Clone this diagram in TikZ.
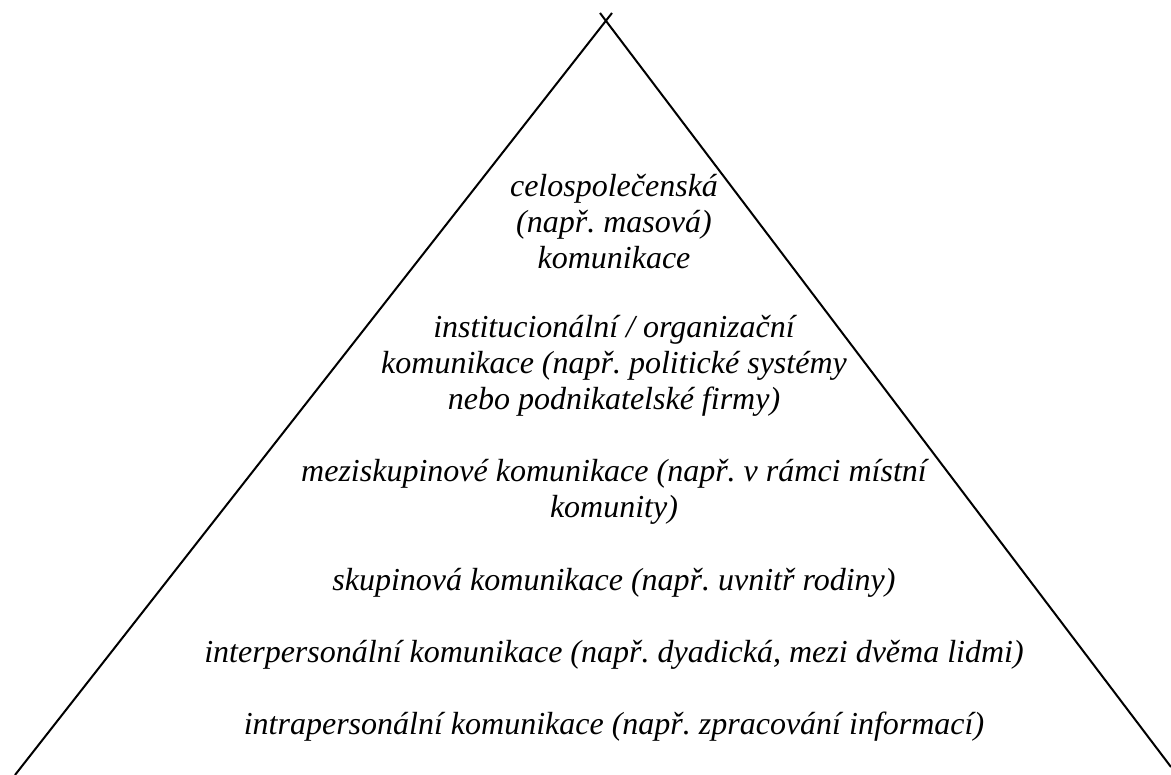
\documentclass[tikz,border=0pt]{standalone}
\usepackage{fontspec}
\setmainfont{Liberation Serif}
\frenchspacing
\begin{document}
\begin{tikzpicture}[x=1pt,y=-1pt]
	% Fix the page
	\useasboundingbox (0,0) rectangle (1171,775);
	\tikzset{level/.style={font=\fontsize{32}{36}\selectfont\itshape, align=center, inner sep=0pt}}
	
	% Draw the pyramid
	\coordinate (topL) at (600,13);
	\coordinate (topR) at (612,13);
	\coordinate (baseL) at (15,775);
	\coordinate (baseR) at (1171,767);
	\draw[line width=2pt] (topR) -- (baseL);
	\draw[line width=2pt] (topL) -- (baseR);
	
	
	 \node [level] (society) at (614,222) {celospolečenská\\(např. masová)\\komunikace};
	 \node [level] (institution) at (614,366) {institucionální / organizační\\komunikace (např. politické systémy\\nebo podnikatelské firmy)};
	 \node [level] (intergroup) at (614,492) {meziskupinové komunikace (např. v rámci místní\\komunity)};
	 \node [level] (group) at (614,583) {skupinová komunikace (např. uvnitř rodiny)};
	 \node [level] (interpersonal) at (614,655) {interpersonální komunikace (např. dyadická, mezi dvěma lidmi)};
	 \node [level] (intrapersonal) at (614,727) {intrapersonální komunikace (např. zpracování informací)};
	 
\end{tikzpicture}
\end{document}
